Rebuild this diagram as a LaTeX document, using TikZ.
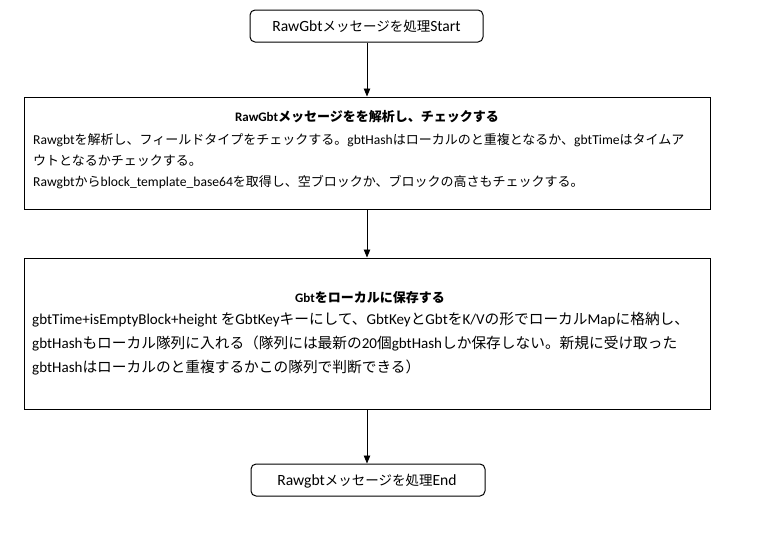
\documentclass[tikz,border=0pt]{standalone}
\usepackage{fontspec}
\setmainfont{Carlito}
\newfontfamily\jp{Noto Sans CJK JP}
\def\jsz{13}
\newcommand\J[1]{{\fontsize{\jsz}{\jsz}\jp #1}}
\usetikzlibrary{arrows.meta}
\tikzset{
  box/.style={draw=black, line width=1pt, fill=white, inner sep=0pt},
  termbox/.style={box, rounded corners=5pt},
  arr/.style={draw=black, line width=0.9pt, -{Triangle[length=8pt,width=6.5pt]}},
  txt/.style={inner sep=0pt, anchor=base west},
  ctxt/.style={inner sep=0pt, anchor=base},
  fT/.style={font=\fontsize{15.6}{18}\selectfont\def\jsz{13.5}},
  fH/.style={font=\fontsize{13}{15}\selectfont\bfseries\def\jsz{13}},
  fA/.style={font=\fontsize{13.6}{16}\selectfont\def\jsz{13}},
  fB/.style={font=\fontsize{15.05}{17}\selectfont\def\jsz{14.7}},
}
\begin{document}
\begin{tikzpicture}[x=1pt,y=-1pt]
\useasboundingbox[fill=white] (0,0) rectangle (760,536);

% nodes
\node[termbox, minimum width=233pt, minimum height=32pt] (s) at (366.5,26) {};
\node[box, minimum width=686pt, minimum height=112pt] (b2) at (367,153) {};
\node[box, minimum width=686pt, minimum height=151pt] (b3) at (367,333.5) {};
\node[termbox, minimum width=234pt, minimum height=32pt] (e) at (368,480) {};

% texts
\node[ctxt, fT] (st) at (366.5,31) {RawGbt\J{メッセージを処理}Start};

\node[ctxt, fH] (t2) at (367,121) {RawGbt\J{メッセージをを解析し、チェックする}};
\node[txt, fA] (l21) at (33,144) {Rawgbt\J{を解析し、フィールドタイプをチェックする。}gbtHash\J{はローカルのと重複となるか、}gbtTime\J{はタイムア}};
\node[txt, fA] (l22) at (33,165) {\J{ウトとなるかチェックする。}};
\node[txt, fA] (l23) at (33,186) {Rawgbt\J{から}block\_template\_base64\J{を取得し、空ブロックか、ブロックの高さもチェックする。}};

\node[ctxt, fH] (t3) at (370,302) {Gbt\J{をローカルに保存する}};
\node[txt, fB] (l31) at (32,324) {gbtTime+isEmptyBlock+height \J{を}GbtKey\J{キーにして、}GbtKey\J{と}Gbt\J{を}K/V\J{の形でローカル}Map\J{に格納し、}};
\node[txt, fB] (l32) at (32,348) {gbtHash\J{もローカル隊列に入れる（隊列には最新の}20\J{個}gbtHash\J{しか保存しない。新規に受け取った}};
\node[txt, fB] (l33) at (32,372) {gbtHash\J{はローカルのと重複するかこの隊列で判断できる）}};

\node[ctxt, fT] (et) at (367,485) {Rawgbt\J{メッセージを処理}End};

% connectors
\draw[arr] (s.south -| b2.north) -- (b2.north);
\draw[arr] (b2.south) -- (b3.north);
\draw[arr] (b3.south) -- (b3.south |- e.north);
\end{tikzpicture}
\end{document}
